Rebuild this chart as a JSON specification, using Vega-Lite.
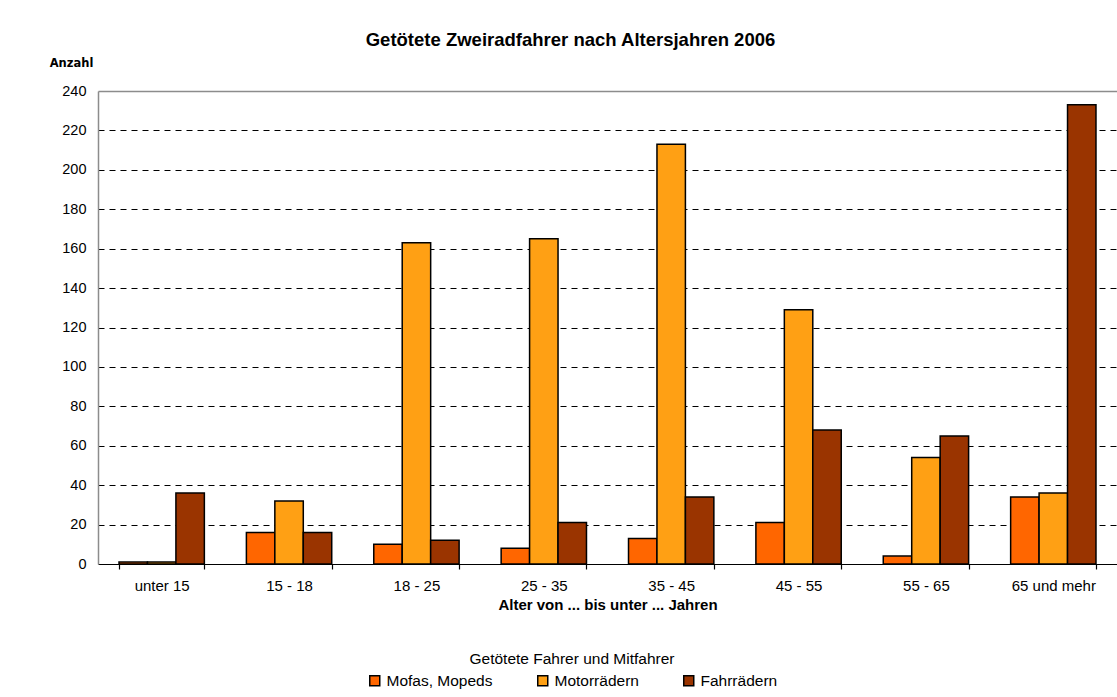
{
  "$schema": "https://vega.github.io/schema/vega-lite/v6.json",
  "autosize": "none",
  "width": 1019,
  "height": 473,
  "padding": {"left": 98, "top": 91, "right": 0, "bottom": 133},
  "background": "white",
  "title": {
    "text": "Getötete Zweiradfahrer nach Altersjahren 2006",
    "font": "Liberation Sans",
    "fontSize": 18.5,
    "fontWeight": "bold",
    "color": "black",
    "anchor": "middle",
    "frame": "group",
    "dx": -37,
    "offset": 8
  },
  "data": {
    "values": [
      {"Alter": "unter 15", "Art": "Mofas, Mopeds", "Anzahl": 1},
      {"Alter": "unter 15", "Art": "Motorrädern", "Anzahl": 1},
      {"Alter": "unter 15", "Art": "Fahrrädern", "Anzahl": 36},
      {"Alter": "15 - 18", "Art": "Mofas, Mopeds", "Anzahl": 16},
      {"Alter": "15 - 18", "Art": "Motorrädern", "Anzahl": 32},
      {"Alter": "15 - 18", "Art": "Fahrrädern", "Anzahl": 16},
      {"Alter": "18 - 25", "Art": "Mofas, Mopeds", "Anzahl": 10},
      {"Alter": "18 - 25", "Art": "Motorrädern", "Anzahl": 163},
      {"Alter": "18 - 25", "Art": "Fahrrädern", "Anzahl": 12},
      {"Alter": "25 - 35", "Art": "Mofas, Mopeds", "Anzahl": 8},
      {"Alter": "25 - 35", "Art": "Motorrädern", "Anzahl": 165},
      {"Alter": "25 - 35", "Art": "Fahrrädern", "Anzahl": 21},
      {"Alter": "35 - 45", "Art": "Mofas, Mopeds", "Anzahl": 13},
      {"Alter": "35 - 45", "Art": "Motorrädern", "Anzahl": 213},
      {"Alter": "35 - 45", "Art": "Fahrrädern", "Anzahl": 34},
      {"Alter": "45 - 55", "Art": "Mofas, Mopeds", "Anzahl": 21},
      {"Alter": "45 - 55", "Art": "Motorrädern", "Anzahl": 129},
      {"Alter": "45 - 55", "Art": "Fahrrädern", "Anzahl": 68},
      {"Alter": "55 - 65", "Art": "Mofas, Mopeds", "Anzahl": 4},
      {"Alter": "55 - 65", "Art": "Motorrädern", "Anzahl": 54},
      {"Alter": "55 - 65", "Art": "Fahrrädern", "Anzahl": 65},
      {"Alter": "65 und mehr", "Art": "Mofas, Mopeds", "Anzahl": 34},
      {"Alter": "65 und mehr", "Art": "Motorrädern", "Anzahl": 36},
      {"Alter": "65 und mehr", "Art": "Fahrrädern", "Anzahl": 233}
    ]
  },
  "mark": {"type": "bar", "stroke": "black", "strokeWidth": 1.5, "opacity": 1},
  "encoding": {
    "x": {
      "field": "Alter",
      "type": "nominal",
      "sort": ["unter 15", "15 - 18", "18 - 25", "25 - 35", "35 - 45", "45 - 55", "55 - 65", "65 und mehr"],
      "scale": {"paddingInner": 0.33, "paddingOuter": 0.165},
      "axis": {
        "title": "Alter von ... bis unter ... Jahren",
        "titleFont": "Liberation Sans",
        "titleFontSize": 15,
        "titleFontWeight": "bold",
        "titleColor": "black",
        "titlePadding": 4,
        "labelAngle": 0,
        "labelFont": "Liberation Sans",
        "labelFontSize": 15,
        "labelColor": "black",
        "labelPadding": 9,
        "tickBand": "extent",
        "tickSize": 5,
        "tickColor": "black",
        "tickWidth": 1.2,
        "domainColor": "black",
        "domainWidth": 1.2,
        "grid": false
      }
    },
    "xOffset": {
      "field": "Art",
      "type": "nominal",
      "sort": ["Mofas, Mopeds", "Motorrädern", "Fahrrädern"],
      "scale": {"paddingInner": 0, "paddingOuter": 0}
    },
    "y": {
      "field": "Anzahl",
      "type": "quantitative",
      "scale": {"domain": [0, 240], "nice": false},
      "axis": {
        "values": [0, 20, 40, 60, 80, 100, 120, 140, 160, 180, 200, 220, 240],
        "title": "Anzahl",
        "titleAngle": 0,
        "titleAlign": "center",
        "titleBaseline": "alphabetic",
        "titleX": -27,
        "titleY": -25,
        "titleFont": "DejaVu Sans",
        "titleFontSize": 11.5,
        "titleFontWeight": "bold",
        "titleColor": "black",
        "labelFont": "Liberation Sans",
        "labelFontSize": 14.5,
        "labelColor": "black",
        "labelPadding": 12,
        "ticks": false,
        "domainColor": "#8c8c8c",
        "domainWidth": 1.5,
        "grid": true,
        "gridColor": {"condition": {"test": "datum.value === 240", "value": "#8c8c8c"}, "value": "black"},
        "gridDash": {"condition": {"test": "datum.value === 240", "value": []}, "value": [6, 5]},
        "gridWidth": {"condition": {"test": "datum.value === 240", "value": 1.5}, "value": 1},
        "gridOpacity": {"condition": {"test": "datum.value === 0", "value": 0}, "value": 1}
      }
    },
    "color": {
      "field": "Art",
      "type": "nominal",
      "sort": ["Mofas, Mopeds", "Motorrädern", "Fahrrädern"],
      "scale": {
        "domain": ["Mofas, Mopeds", "Motorrädern", "Fahrrädern"],
        "range": ["#ff6600", "#ffa014", "#9a3400"]
      },
      "legend": {
        "title": "Getötete Fahrer und Mitfahrer",
        "orient": "none",
        "legendX": 269,
        "legendY": 561,
        "direction": "horizontal",
        "titleAnchor": "middle",
        "titleLimit": 2000,
        "labelLimit": 1000,
        "titleFont": "Liberation Sans",
        "titleFontSize": 15.5,
        "titleFontWeight": "normal",
        "titleColor": "black",
        "titlePadding": 5,
        "labelFont": "Liberation Sans",
        "labelFontSize": 15.5,
        "labelColor": "black",
        "labelOffset": 4,
        "columnPadding": 41,
        "symbolType": "square",
        "symbolSize": 100,
        "symbolStrokeColor": "black",
        "symbolStrokeWidth": 1.5,
        "symbolOpacity": 1,
        "padding": 0
      }
    }
  },
  "config": {
    "view": {"stroke": null},
    "font": "Liberation Sans"
  }
}
